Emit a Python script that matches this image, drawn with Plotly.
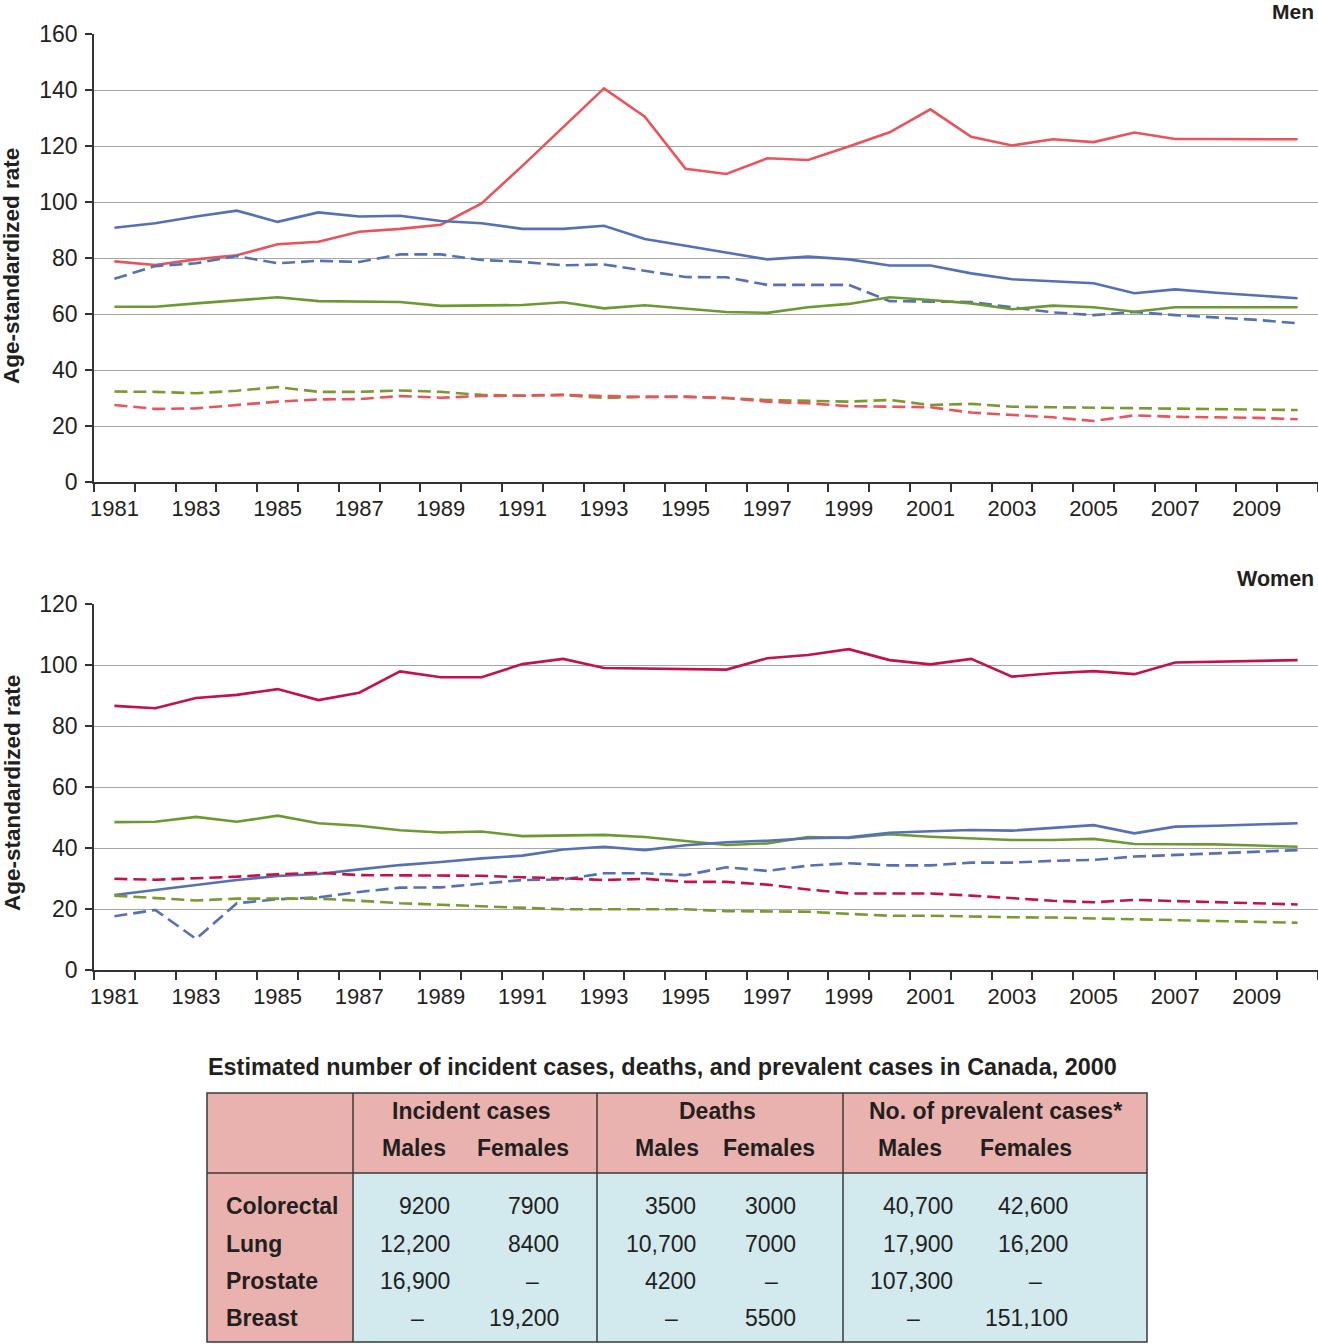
import plotly.graph_objects as go

W, H = 1318, 1344

years = list(range(1981, 2011))

# ---- Men (age-standardized rate) ----
men_prostate_inc = [78.8, 77.5, 79.5, 81.0, 84.9, 85.8, 89.4, 90.4, 91.9, 99.5,
                    112.9, 126.7, 140.6, 130.5, 111.9, 110.0, 115.6, 115.0, 119.8, 124.9,
                    133.1, 123.3, 120.2, 122.4, 121.4, 124.8, 122.5, 122.5, 122.4, 122.4]
men_lung_inc = [90.8, 92.4, 94.8, 96.9, 92.9, 96.3, 94.8, 95.1, 93.2, 92.4,
                90.4, 90.4, 91.5, 86.8, 84.4, 82.0, 79.5, 80.5, 79.5, 77.3,
                77.3, 74.5, 72.4, 71.7, 71.0, 67.4, 68.8, 67.6, 66.7, 65.6]
men_lung_mort = [72.6, 77.1, 78.1, 80.7, 78.1, 79.0, 78.6, 81.3, 81.3, 79.3,
                 78.6, 77.4, 77.7, 75.5, 73.2, 73.1, 70.4, 70.4, 70.4, 64.6,
                 64.4, 64.3, 62.4, 60.6, 59.6, 60.7, 59.6, 58.7, 57.9, 56.7]
men_crc_inc = [62.6, 62.6, 63.8, 65.0, 66.0, 64.6, 64.4, 64.3, 62.9, 63.0,
               63.2, 64.2, 62.0, 63.1, 61.8, 60.7, 60.4, 62.4, 63.6, 66.0,
               65.0, 63.8, 61.7, 63.0, 62.4, 60.8, 62.4, 62.4, 62.4, 62.4]
men_crc_mort = [32.3, 32.2, 31.7, 32.6, 33.9, 32.2, 32.2, 32.7, 32.2, 31.1,
                30.8, 31.1, 30.0, 30.4, 30.4, 30.0, 29.3, 29.0, 28.7, 29.3,
                27.5, 27.9, 26.9, 26.7, 26.5, 26.3, 26.3, 26.0, 25.9, 25.7]
men_prostate_mort = [27.5, 26.1, 26.3, 27.5, 28.7, 29.5, 29.6, 30.7, 30.1, 30.7,
                     30.8, 31.1, 30.7, 30.4, 30.5, 30.0, 28.7, 28.1, 27.1, 26.9,
                     26.7, 24.8, 23.9, 23.1, 21.8, 23.8, 23.3, 23.1, 22.9, 22.4]

# ---- Women (age-standardized rate) ----
women_breast_inc = [86.6, 85.8, 89.2, 90.2, 92.1, 88.5, 90.9, 97.9, 96.0, 96.0,
                    100.3, 102.0, 99.0, 98.8, 98.7, 98.5, 102.2, 103.3, 105.2, 101.6,
                    100.2, 102.0, 96.2, 97.3, 98.0, 97.0, 100.8, 101.1, 101.4, 101.6]
women_crc_inc = [48.5, 48.6, 50.2, 48.6, 50.6, 48.1, 47.3, 45.8, 45.1, 45.4,
                 43.9, 44.0, 44.3, 43.6, 42.4, 41.0, 41.5, 43.6, 43.3, 44.5,
                 43.7, 43.1, 42.6, 42.6, 43.0, 41.3, 41.3, 41.2, 40.8, 40.4]
women_lung_inc = [24.6, 26.3, 28.0, 29.5, 30.8, 31.5, 33.0, 34.4, 35.4, 36.6,
                  37.5, 39.5, 40.4, 39.3, 40.9, 41.9, 42.4, 43.2, 43.5, 45.0,
                  45.5, 45.9, 45.7, 46.7, 47.5, 44.8, 47.0, 47.3, 47.7, 48.1]
women_lung_mort = [17.6, 19.7, 10.2, 21.9, 23.2, 23.8, 25.6, 27.0, 27.1, 28.4,
                   29.5, 29.7, 31.7, 31.7, 31.1, 33.7, 32.5, 34.2, 35.0, 34.3,
                   34.3, 35.2, 35.2, 35.8, 36.1, 37.2, 37.7, 38.1, 38.7, 39.3]
women_breast_mort = [29.9, 29.6, 30.1, 30.6, 31.4, 31.9, 31.1, 31.1, 31.1, 30.9,
                     30.4, 30.1, 29.5, 29.9, 28.9, 28.9, 28.0, 26.4, 25.1, 25.1,
                     25.1, 24.4, 23.5, 22.7, 22.2, 23.0, 22.6, 22.3, 21.9, 21.5]
women_crc_mort = [24.4, 23.6, 22.8, 23.4, 23.3, 23.4, 22.7, 21.9, 21.4, 20.9,
                  20.5, 19.9, 19.9, 19.9, 19.9, 19.3, 19.1, 19.1, 18.4, 17.8,
                  17.8, 17.5, 17.3, 17.2, 16.9, 16.6, 16.4, 16.1, 15.7, 15.5]

# ---- Table ----
table_title = "Estimated number of incident cases, deaths, and prevalent cases in Canada, 2000"
group_headers = ["Incident cases", "Deaths", "No. of prevalent cases*"]
sex_headers = ["Males", "Females"]
row_labels = ["Colorectal", "Lung", "Prostate", "Breast"]
incident_males = [9200, 12200, 16900, None]
incident_females = [7900, 8400, None, 19200]
deaths_males = [3500, 10700, 4200, None]
deaths_females = [3000, 7000, None, 5500]
prevalent_males = [40700, 17900, 107300, None]
prevalent_females = [42600, 16200, None, 151100]

RED = "#E9545A"
BLUE = "#5670B6"
GREEN = "#6C9A32"
GREEN_D = "#7A9A30"
CRIMSON = "#C2124A"
DASH = "13px,6px"
LW = 2.6
FONT = "Liberation Sans, Arial, Helvetica, sans-serif"
TXT = "#231f20"
FS_XTICK = 22
FS_YTICK = 23
FS_TXT = 23


def px(x):
    return x / W


def py(y):
    return 1 - y / H


xs = [str(y) for y in years]
ticktext = [str(y) if (y - 1981) % 2 == 0 else "" for y in years]

fig = go.Figure()

men_series = [
    (men_prostate_inc, RED, "solid", "Prostate incidence"),
    (men_lung_inc, BLUE, "solid", "Lung incidence"),
    (men_lung_mort, BLUE, DASH, "Lung mortality"),
    (men_crc_inc, GREEN, "solid", "Colorectal incidence"),
    (men_crc_mort, GREEN_D, DASH, "Colorectal mortality"),
    (men_prostate_mort, RED, DASH, "Prostate mortality"),
]
for vals, col, dash, name in men_series:
    fig.add_trace(go.Scatter(x=xs, y=vals, mode="lines", name=name,
                             line=dict(color=col, width=LW, dash=dash),
                             xaxis="x", yaxis="y", showlegend=False))

women_series = [
    (women_breast_inc, CRIMSON, "solid", "Breast incidence"),
    (women_crc_inc, GREEN, "solid", "Colorectal incidence"),
    (women_lung_inc, BLUE, "solid", "Lung incidence"),
    (women_lung_mort, BLUE, DASH, "Lung mortality"),
    (women_breast_mort, CRIMSON, DASH, "Breast mortality"),
    (women_crc_mort, GREEN_D, DASH, "Colorectal mortality"),
]
for vals, col, dash, name in women_series:
    fig.add_trace(go.Scatter(x=xs, y=vals, mode="lines", name=name,
                             line=dict(color=col, width=LW, dash=dash),
                             xaxis="x2", yaxis="y2", showlegend=False))

xcommon = dict(type="category", tickmode="array", tickvals=xs, ticktext=ticktext,
               tickson="boundaries", ticks="outside", ticklen=8, tickwidth=1.5,
               tickcolor="#333", showline=True, linecolor="#333", linewidth=1.5,
               showgrid=False, zeroline=False, range=[-0.5, 29.5], tickangle=0,
               automargin=False, ticklabelstandoff=6,
               tickfont=dict(family=FONT, size=FS_XTICK, color=TXT))
ycommon = dict(ticks="outside", ticklen=7, tickwidth=1.5, tickcolor="#333",
               showline=True, linecolor="#333", linewidth=1.5, showgrid=True,
               gridcolor="#a6a6a6", gridwidth=1.2, zeroline=False, dtick=20,
               automargin=False, ticklabelstandoff=3,
               tickfont=dict(family=FONT, size=FS_YTICK, color=TXT))

fig.update_layout(
    width=W, height=H, margin=dict(l=0, r=0, t=0, b=0, autoexpand=False),
    paper_bgcolor="white", plot_bgcolor="white", showlegend=False,
    xaxis=dict(domain=[px(94), 1], anchor="y", **xcommon),
    yaxis=dict(domain=[py(482), py(34)], anchor="x", range=[0, 160], **ycommon),
    xaxis2=dict(domain=[px(94), 1], anchor="y2", **xcommon),
    yaxis2=dict(domain=[py(970), py(604)], anchor="x2", range=[0, 120], **ycommon),
)

ann = []
# axis titles and panel labels
for yc in (266, 793):
    ann.append(dict(x=px(12), y=py(yc), xref="paper", yref="paper", text="<b>Age-standardized rate</b>",
                    textangle=-90, showarrow=False, xanchor="center", yanchor="middle",
                    font=dict(family=FONT, size=22.5, color=TXT)))
ann.append(dict(x=px(1316), y=py(12), xref="paper", yref="paper", text="<b>Men</b>", showarrow=False,
                xanchor="right", yanchor="middle", font=dict(family=FONT, size=21, color=TXT)))
ann.append(dict(x=px(1316), y=py(579), xref="paper", yref="paper", text="<b>Women</b>", showarrow=False,
                xanchor="right", yanchor="middle", font=dict(family=FONT, size=21.5, color=TXT)))

# table geometry
TL, TR, TT, TB = 207, 1147, 1093, 1342
HB = 1173
VCOLS = [353, 597, 843]
PINK = "#EAB2AE"
CYAN = "#D2E9ED"

shapes = [
    dict(type="rect", xref="paper", yref="paper", x0=px(TL), x1=px(TR), y0=py(HB), y1=py(TT),
         fillcolor=PINK, line=dict(width=0), layer="below"),
    dict(type="rect", xref="paper", yref="paper", x0=px(TL), x1=px(VCOLS[0]), y0=py(TB), y1=py(HB),
         fillcolor=PINK, line=dict(width=0), layer="below"),
    dict(type="rect", xref="paper", yref="paper", x0=px(VCOLS[0]), x1=px(TR), y0=py(TB), y1=py(HB),
         fillcolor=CYAN, line=dict(width=0), layer="below"),
    dict(type="rect", xref="paper", yref="paper", x0=px(TL), x1=px(TR), y0=py(TB), y1=py(TT),
         line=dict(color="#3a3a3a", width=1.5)),
    dict(type="line", xref="paper", yref="paper", x0=px(TL), x1=px(TR), y0=py(HB), y1=py(HB),
         line=dict(color="#3a3a3a", width=1.5)),
]
for vx in VCOLS:
    shapes.append(dict(type="line", xref="paper", yref="paper", x0=px(vx), x1=px(vx), y0=py(TB), y1=py(TT),
                       line=dict(color="#3a3a3a", width=1.5)))

ann.append(dict(x=px(662), y=py(1067), xref="paper", yref="paper", text="<b>" + table_title + "</b>",
                showarrow=False, xanchor="center", yanchor="middle", font=dict(family=FONT, size=23.4, color=TXT)))

group_centers = [471, 718, 995]
for g, cx in zip(group_headers, group_centers):
    ann.append(dict(x=px(cx), y=py(1111), xref="paper", yref="paper", text="<b>" + g + "</b>",
                    showarrow=False, xanchor="center", yanchor="middle", font=dict(family=FONT, size=FS_TXT, color=TXT)))
sex_centers = [(414, 523), (667, 769), (910, 1026)]
for (mc, fc) in sex_centers:
    for lab, cx in zip(sex_headers, (mc, fc)):
        ann.append(dict(x=px(cx), y=py(1148), xref="paper", yref="paper", text="<b>" + lab + "</b>",
                        showarrow=False, xanchor="center", yanchor="middle", font=dict(family=FONT, size=FS_TXT, color=TXT)))

row_y = [1206, 1244, 1281, 1318]
for lab, ry in zip(row_labels, row_y):
    ann.append(dict(x=px(224), y=py(ry), xref="paper", yref="paper", text="<b>" + lab + "</b>",
                    showarrow=False, xanchor="left", yanchor="middle", font=dict(family=FONT, size=FS_TXT, color=TXT)))


def fmt(n):
    return f"{n:,}" if n >= 10000 else str(n)


columns = [
    (incident_males, 452, 417),
    (incident_females, 561, 532),
    (deaths_males, 698, 671),
    (deaths_females, 798, 771),
    (prevalent_males, 955, 913),
    (prevalent_females, 1070, 1035),
]
for vals, right_x, dash_x in columns:
    for v, ry in zip(vals, row_y):
        if v is None:
            ann.append(dict(x=px(dash_x), y=py(ry), xref="paper", yref="paper", text="\u2013",
                            showarrow=False, xanchor="center", yanchor="middle",
                            font=dict(family=FONT, size=FS_TXT, color=TXT)))
        else:
            ann.append(dict(x=px(right_x), y=py(ry), xref="paper", yref="paper", text=fmt(v),
                            showarrow=False, xanchor="right", yanchor="middle",
                            font=dict(family=FONT, size=FS_TXT, color=TXT)))

fig.update_layout(annotations=ann, shapes=shapes)
fig.write_html("out.html", config={"displayModeBar": False},
               post_script="document.body.style.margin='0';document.body.style.overflow='hidden';")
